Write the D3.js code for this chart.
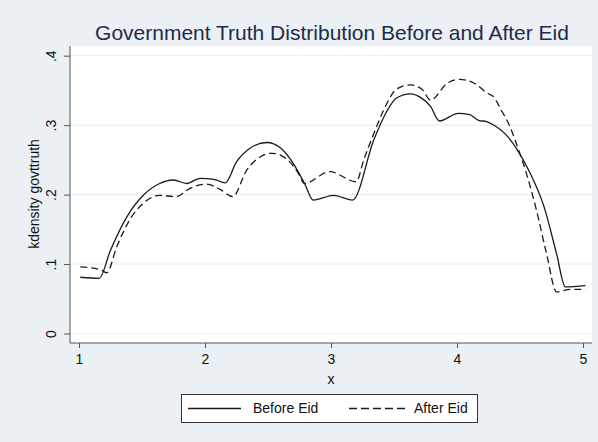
<!DOCTYPE html>
<html>
<head>
<meta charset="utf-8">
<script src="https://cdn.jsdelivr.net/npm/d3@7"></script>
<style>
  body { margin: 0; background: #eaf0f3; }
  svg { display: block; font-family: "Liberation Sans", Arial, Helvetica, sans-serif; }
</style>
</head>
<body>
<svg id="chart"></svg>
<script>
// kdensity estimates
var beforeX = [1.01, 1.16, 1.25, 1.38, 1.51, 1.64, 1.75, 1.855, 1.96, 2.07, 2.16, 2.25, 2.36, 2.49, 2.60, 2.70, 2.79, 2.86, 3.02, 3.17, 3.34, 3.44, 3.52, 3.63, 3.71, 3.79, 3.86, 4.01, 4.10, 4.17, 4.235, 4.31, 4.39, 4.47, 4.58, 4.69, 4.79, 4.86, 5.02]
var beforeY = [0.081, 0.0795, 0.120, 0.168, 0.199, 0.216, 0.221, 0.216, 0.2235, 0.222, 0.217, 0.247, 0.267, 0.275, 0.267, 0.245, 0.216, 0.192, 0.199, 0.192, 0.279, 0.319, 0.339, 0.345, 0.340, 0.327, 0.306, 0.317, 0.315, 0.307, 0.305, 0.298, 0.286, 0.267, 0.231, 0.183, 0.115, 0.067, 0.069]

var afterX = [1.01, 1.17, 1.22, 1.30, 1.40, 1.51, 1.64, 1.77, 1.88, 2.01, 2.12, 2.22, 2.33, 2.44, 2.53, 2.65, 2.74, 2.79, 2.99, 3.20, 3.26, 3.34, 3.44, 3.52, 3.63, 3.72, 3.79, 3.92, 4.02, 4.14, 4.24, 4.29, 4.35, 4.42, 4.47, 4.55, 4.63, 4.71, 4.79, 4.90, 5.02]
var afterY = [0.096, 0.092, 0.0875, 0.125, 0.163, 0.1875, 0.199, 0.197, 0.209, 0.215, 0.2075, 0.197, 0.235, 0.2545, 0.2595, 0.251, 0.231, 0.216, 0.233, 0.2185, 0.25, 0.288, 0.330, 0.352, 0.358, 0.352, 0.336, 0.360, 0.366, 0.360, 0.346, 0.341, 0.322, 0.298, 0.274, 0.231, 0.178, 0.1155, 0.060, 0.0635, 0.0635]

var xTicks = [1, 2, 3, 4, 5]
var yTicks = [0, 0.1, 0.2, 0.3, 0.4]
var yTickLabels = ["0", ".1", ".2", ".3", ".4"]
var seriesNames = ["Before Eid", "After Eid"]

var dimensions = {
    width: 598,
    height: 442,
    plot: { left: 70, right: 592, top: 46, bottom: 343 }
}

var svg = d3.select("#chart")
            .attr("width", dimensions.width)
            .attr("height", dimensions.height)

svg.append("rect")
   .attr("width", dimensions.width)
   .attr("height", dimensions.height)
   .attr("fill", "#eaf0f3")

svg.append("rect")
   .attr("x", dimensions.plot.left)
   .attr("y", dimensions.plot.top)
   .attr("width", dimensions.plot.right - dimensions.plot.left)
   .attr("height", dimensions.plot.bottom - dimensions.plot.top)
   .attr("fill", "white")

var xScale = d3.scaleLinear()
               .domain([1, 5])
               .range([79, 583])

var yScale = d3.scaleLinear()
               .domain([0, 0.4])
               .range([333.5, 55.7])

// gridlines
svg.append("g")
   .selectAll("line")
   .data(yTicks)
   .enter()
   .append("line")
   .attr("x1", dimensions.plot.left)
   .attr("x2", dimensions.plot.right)
   .attr("y1", d => yScale(d))
   .attr("y2", d => yScale(d))
   .attr("stroke", "#e8f1f2")
   .attr("stroke-width", 1.2)

var xAxisgen = d3.axisBottom(xScale)
                 .tickValues(xTicks)
                 .tickSize(5)
                 .tickSizeOuter(0)
                 .tickFormat(d3.format("d"))

var yAxisgen = d3.axisLeft(yScale)
                 .tickValues(yTicks)
                 .tickSize(6)
                 .tickSizeOuter(0)
                 .tickFormat((d, i) => yTickLabels[i])

var xAxis = svg.append("g")
               .attr("transform", `translate(0,${dimensions.plot.bottom})`)
               .call(xAxisgen)
xAxis.select(".domain").attr("d", `M${dimensions.plot.left},0H${dimensions.plot.right}`)
xAxis.selectAll("text").attr("font-size", 14).attr("fill", "#111").attr("dy", "0.9em")

var yAxis = svg.append("g")
               .attr("transform", `translate(${dimensions.plot.left},0)`)
               .call(yAxisgen)
yAxis.select(".domain").attr("d", `M0,${dimensions.plot.top}V${dimensions.plot.bottom}`)
yAxis.selectAll("text")
     .attr("font-size", 14)
     .attr("fill", "#111")
     .attr("text-anchor", "middle")
     .attr("x", 0)
     .attr("dy", 0)
     .attr("transform", "translate(-14,0) rotate(-90)")

svg.selectAll(".domain, .tick line").attr("stroke", "#555")

// curves
var line = d3.line()
             .x(d => xScale(d[0]))
             .y(d => yScale(d[1]))
             .curve(d3.curveMonotoneX)

svg.append("path")
   .datum(d3.zip(beforeX, beforeY))
   .attr("d", line)
   .attr("fill", "none")
   .attr("stroke", "#1a1a1a")
   .attr("stroke-width", 1.3)

svg.append("path")
   .datum(d3.zip(afterX, afterY))
   .attr("d", line)
   .attr("fill", "none")
   .attr("stroke", "#1a1a1a")
   .attr("stroke-width", 1.3)
   .attr("stroke-dasharray", "7,4")

// titles
svg.append("text")
   .attr("x", 332)
   .attr("y", 40)
   .attr("text-anchor", "middle")
   .attr("font-size", 21)
   .attr("fill", "#1e2b4a")
   .text("Government Truth Distribution Before and After Eid")

svg.append("text")
   .attr("x", 331)
   .attr("y", 384)
   .attr("text-anchor", "middle")
   .attr("font-size", 14)
   .attr("fill", "#111")
   .text("x")

svg.append("text")
   .attr("transform", "translate(39,194) rotate(-90)")
   .attr("text-anchor", "middle")
   .attr("font-size", 14)
   .attr("fill", "#111")
   .text("kdensity govttruth")

// legend
var legend = svg.append("g")
legend.append("rect")
      .attr("x", 181.5)
      .attr("y", 394.5)
      .attr("width", 296)
      .attr("height", 28)
      .attr("fill", "white")
      .attr("stroke", "#333")
      .attr("stroke-width", 1)

var legendItems = legend.selectAll("g.item")
      .data(seriesNames)
      .enter()
      .append("g")
      .attr("transform", (d, i) => `translate(${i === 0 ? 188 : 349},408.5)`)

legendItems.append("line")
      .attr("x1", 0)
      .attr("x2", (d, i) => i === 0 ? 53 : 56)
      .attr("stroke", "#1a1a1a")
      .attr("stroke-width", 1.3)
      .attr("stroke-dasharray", (d, i) => i === 0 ? null : "8,4")

legendItems.append("text")
      .attr("x", 65)
      .attr("dy", "0.35em")
      .attr("font-size", 14)
      .attr("fill", "#111")
      .text(d => d)
</script>
</body>
</html>
